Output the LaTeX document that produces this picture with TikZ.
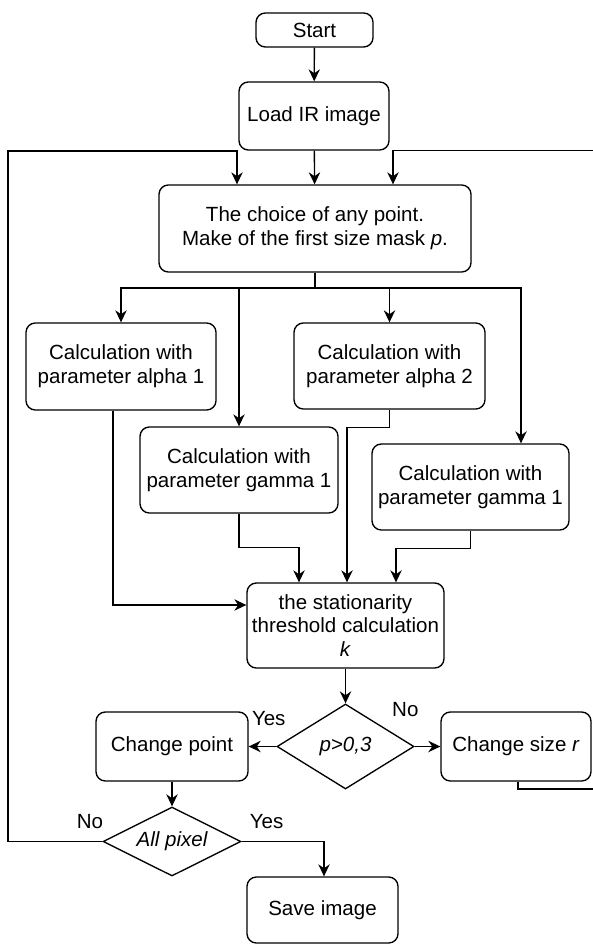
\documentclass[tikz,border=0pt]{standalone}
\usepackage{fontspec}
\setmainfont{Liberation Sans}
\usetikzlibrary{shapes.geometric, arrows.meta, positioning, calc}

\newcommand{\flowfont}{\fontsize{15.4}{17.8}\selectfont}

\tikzset{
  block/.style={draw, rounded corners=7pt, align=center, inner sep=0pt, fill=white, font=\flowfont},
  decision/.style={draw, diamond, align=center, inner sep=0pt, fill=white, font=\flowfont\itshape},
  answer/.style={inner sep=0pt, font=\flowfont},
}

\begin{document}
\begin{tikzpicture}[x=0.75pt, y=-0.75pt, line width=1pt,
    >={Stealth[length=9pt, width=8.5pt]}]
		\useasboundingbox (0,0) rectangle (592,944);
		% Top
		\node[block, minimum width=87.75pt, minimum height=25.5pt] (start) at (314.5,30) {Start};
		\node[block, minimum width=112.5pt, minimum height=51pt] (load) at (314,116) {Load IR image};
		\node[block, minimum width=234pt, minimum height=65.25pt] (choice) at (315,228.5)
			{The choice of any point.\\Make of the first size mask \textit{p}.};
		% Parameters
		\node[block, minimum width=142.5pt, minimum height=65.25pt] (alphaone) at (121,366.5)
			{Calculation with\\parameter alpha 1};
		\node[block, minimum width=143.25pt, minimum height=64.5pt] (alphatwo) at (389.5,366)
			{Calculation with\\parameter alpha 2};
		\node[block, minimum width=148.5pt, minimum height=64.5pt] (gammaone) at (239,470)
			{Calculation with\\parameter gamma 1};
		\node[block, minimum width=147.75pt, minimum height=64.5pt] (gammatwo) at (470.5,487)
			{Calculation with\\parameter gamma 1};
		\node[block, minimum width=147.75pt, minimum height=63.75pt] (thresh) at (345.5,625.5)
			{the stationarity\\threshold calculation\\\textit{k}};
		% Decisions
		\node[decision, aspect=1.6, minimum width=102.75pt, minimum height=63.75pt] (pcheck) at (345.5,746.5) {p>0,3};
		\node[block, minimum width=114pt, minimum height=51.75pt] (chpoint) at (172,746.5) {Change point};
		\node[block, minimum width=112.5pt, minimum height=51.75pt] (chsize) at (516,746.5) {Change size \textit{r}};
		\node[decision, aspect=2, minimum width=103.5pt, minimum height=51.75pt] (allpix) at (172,841.5) {All pixel};
		\node[block, minimum width=113.25pt, minimum height=49.5pt] (save) at (322.5,910) {Save image};

		\draw[->] (start) -- (load);
		\draw[->] (load) -- (choice);
		% Split to the parameters
		\coordinate (split) at (315,288);
		\draw (choice.south) -- (split);
		\draw[->] (split) -| (alphaone.north);
		\draw[->] (split) -| (gammaone.north);
		\draw[->] (split) -| (alphatwo.north);
		\draw[->] (split) -| ($(gammatwo.north)+(50.5,0)$);
		% Join at the threshold
		\draw[->] ($(alphaone.south)+(-8,0)$) |- ($(thresh.west)+(0,-20.5)$);
		\draw[->] (gammaone.south) -- ++(0,34) -| ($(thresh.north)+(-46.5,0)$);
		\draw[->] (alphatwo.south) -- ++(0,18) -| ($(thresh.north)+(1.5,0)$);
		\draw[->] (gammatwo.south) -- ++(0,18) -| ($(thresh.north)+(50.5,0)$);
		\draw[->] (thresh) -- (pcheck);
		% Branches
		\draw[->] (pcheck) -- (chpoint)
			node[answer, pos=1, anchor=south west, xshift=2pt, yshift=15pt] {Yes};
		\draw[->] (pcheck) -- (chsize)
			node[answer, pos=0, anchor=south, xshift=-7pt, yshift=21.5pt] {No};
		\draw[->] (chpoint) -- (allpix);
		\draw[->] (allpix.east) node[answer, anchor=south west, xshift=5.6pt, yshift=8.8pt] {Yes}
			-| ($(save.north)+(1.5,0)$);
		% Loops back
		\draw[->] (allpix.west) node[answer, anchor=south east, xshift=1pt, yshift=8.8pt] {No}
			-| (8,151) -| ($(choice.north)+(-78,0)$);
		\draw[->] ($(chsize.south)+(2,0)$) |- (615,789) |- ($(choice.north)+(78,-34)$)
			-- ($(choice.north)+(78,0)$);
	\end{tikzpicture}
\end{document}
